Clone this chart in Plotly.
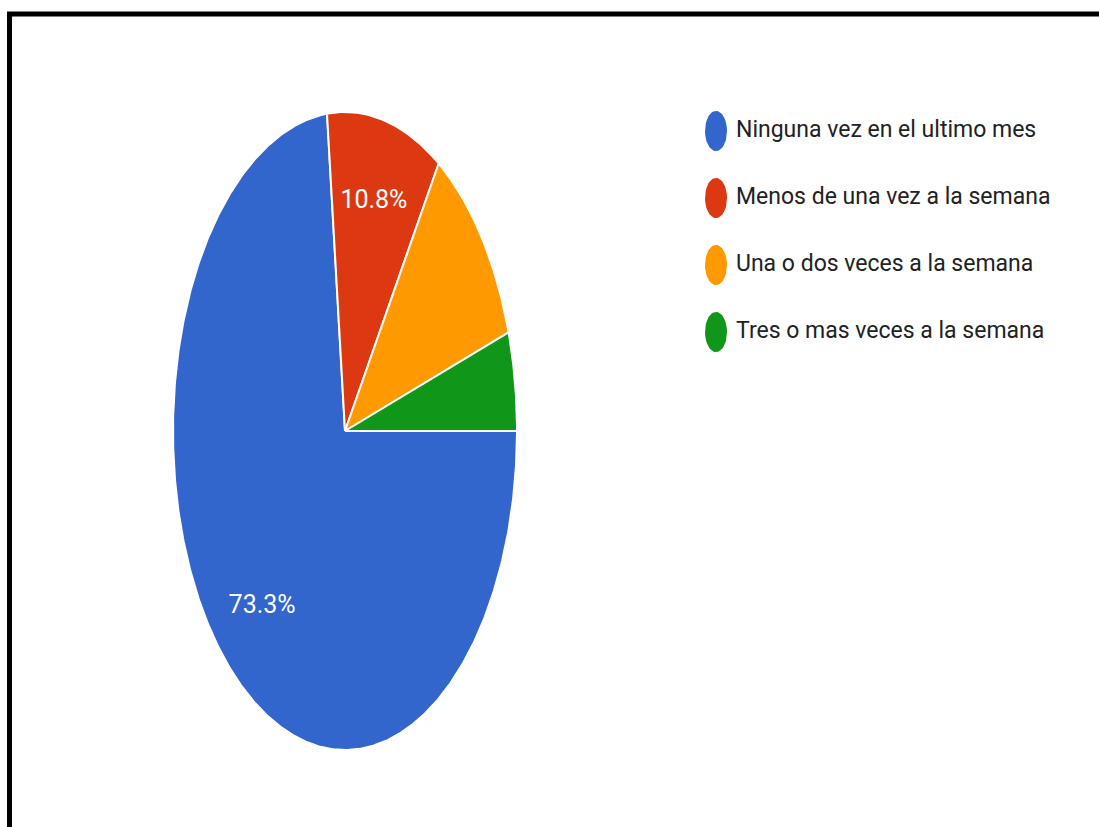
import numpy as np
import plotly.graph_objects as go

# ---- data ----
categories = [
    "Ninguna vez en el ultimo mes",
    "Menos de una vez a la semana",
    "Una o dos veces a la semana",
    "Tres o mas veces a la semana",
]
counts = [88, 13, 13, 6]
show_label = [True, True, False, False]

# ---- style ----
colors = ["#3366CC", "#DC3912", "#FF9900", "#109618"]
FONT = "Roboto, Liberation Sans, Arial, sans-serif"
W, H = 1099, 827
start_angle = 90.0  # degrees clockwise from 12 o'clock

total = float(sum(counts))
pcts = [100.0 * c / total for c in counts]

fig = go.Figure()

# pie slices (elliptical, as in the reference image)
a0 = start_angle
label_x, label_y, label_t = [], [], []
for cat, c, p, col, show in zip(categories, counts, pcts, colors, show_label):
    sweep = 360.0 * c / total
    th = np.radians(np.linspace(a0, a0 + sweep, max(int(sweep * 2), 4)))
    xs = np.concatenate([[0.0], np.sin(th), [0.0]])
    ys = np.concatenate([[0.0], np.cos(th), [0.0]])
    fig.add_trace(go.Scatter(
        x=xs, y=ys, mode="lines", fill="toself", fillcolor=col,
        line=dict(color="white", width=2), showlegend=False,
        hoverinfo="text", text=f"{cat}: {p:.1f}%", xaxis="x", yaxis="y",
    ))
    if show:
        mid = np.radians(a0 + sweep / 2)
        label_x.append(0.72 * np.sin(mid))
        label_y.append(0.74 * np.cos(mid))
        label_t.append(f"{p:.1f}%")
    a0 += sweep

fig.add_trace(go.Scatter(
    x=label_x, y=label_y, text=label_t, mode="text",
    textfont=dict(family=FONT, size=25, color="white"),
    showlegend=False, hoverinfo="skip", xaxis="x", yaxis="y", cliponaxis=False,
))

# legend built as markers + text on its own axes
t = np.linspace(0, 2 * np.pi, 60)
for i, (cat, col) in enumerate(zip(categories, colors)):
    fig.add_trace(go.Scatter(
        x=0.55 * np.cos(t), y=i + 0.30 * np.sin(t), mode="lines",
        fill="toself", fillcolor=col, line=dict(color=col, width=0),
        showlegend=False, hoverinfo="skip", xaxis="x2", yaxis="y2",
    ))
fig.add_trace(go.Scatter(
    x=[1.0] * len(categories), y=list(range(len(categories))),
    text=categories, mode="text", textposition="middle right",
    textfont=dict(family=FONT, size=23, color="#222222"),
    showlegend=False, hoverinfo="skip", xaxis="x2", yaxis="y2", cliponaxis=False,
))

# pie axes: center px (345, 431), rx 172, ry 319
cx, cy, rx, ry = 345, 431, 172, 319
fig.update_layout(
    width=W, height=H,
    margin=dict(l=0, r=0, t=0, b=0),
    paper_bgcolor="white", plot_bgcolor="rgba(0,0,0,0)",
    showlegend=False,
    xaxis=dict(domain=[(cx - rx) / W, (cx + rx) / W], range=[-1, 1],
               visible=False, fixedrange=True),
    yaxis=dict(domain=[(H - cy - ry) / H, (H - cy + ry) / H], range=[-1, 1],
               visible=False, fixedrange=True),
)

# legend axes: row 0 centered at px y 131, spacing 67 px; marker center at px x 716
row0, gap, mx, unit = 131, 67, 716, 20
y_top = row0 - 0.5 * gap
y_bot = row0 + 3.5 * gap
fig.update_layout(
    xaxis2=dict(domain=[690 / W, 1.0], range=[(690 - mx) / unit, (W - mx) / unit],
                visible=False, fixedrange=True, anchor="y2"),
    yaxis2=dict(domain=[(H - y_bot) / H, (H - y_top) / H], range=[3.5, -0.5],
                visible=False, fixedrange=True, anchor="x2"),
)

# black frame (top and left edges visible in the reference)
fig.add_shape(type="line", xref="paper", yref="paper",
              x0=7 / W, x1=1.0, y0=(H - 14) / H, y1=(H - 14) / H,
              line=dict(color="black", width=5))
fig.add_shape(type="line", xref="paper", yref="paper",
              x0=9.5 / W, x1=9.5 / W, y0=0, y1=(H - 12) / H,
              line=dict(color="black", width=5))

fig.write_html("out.html")
